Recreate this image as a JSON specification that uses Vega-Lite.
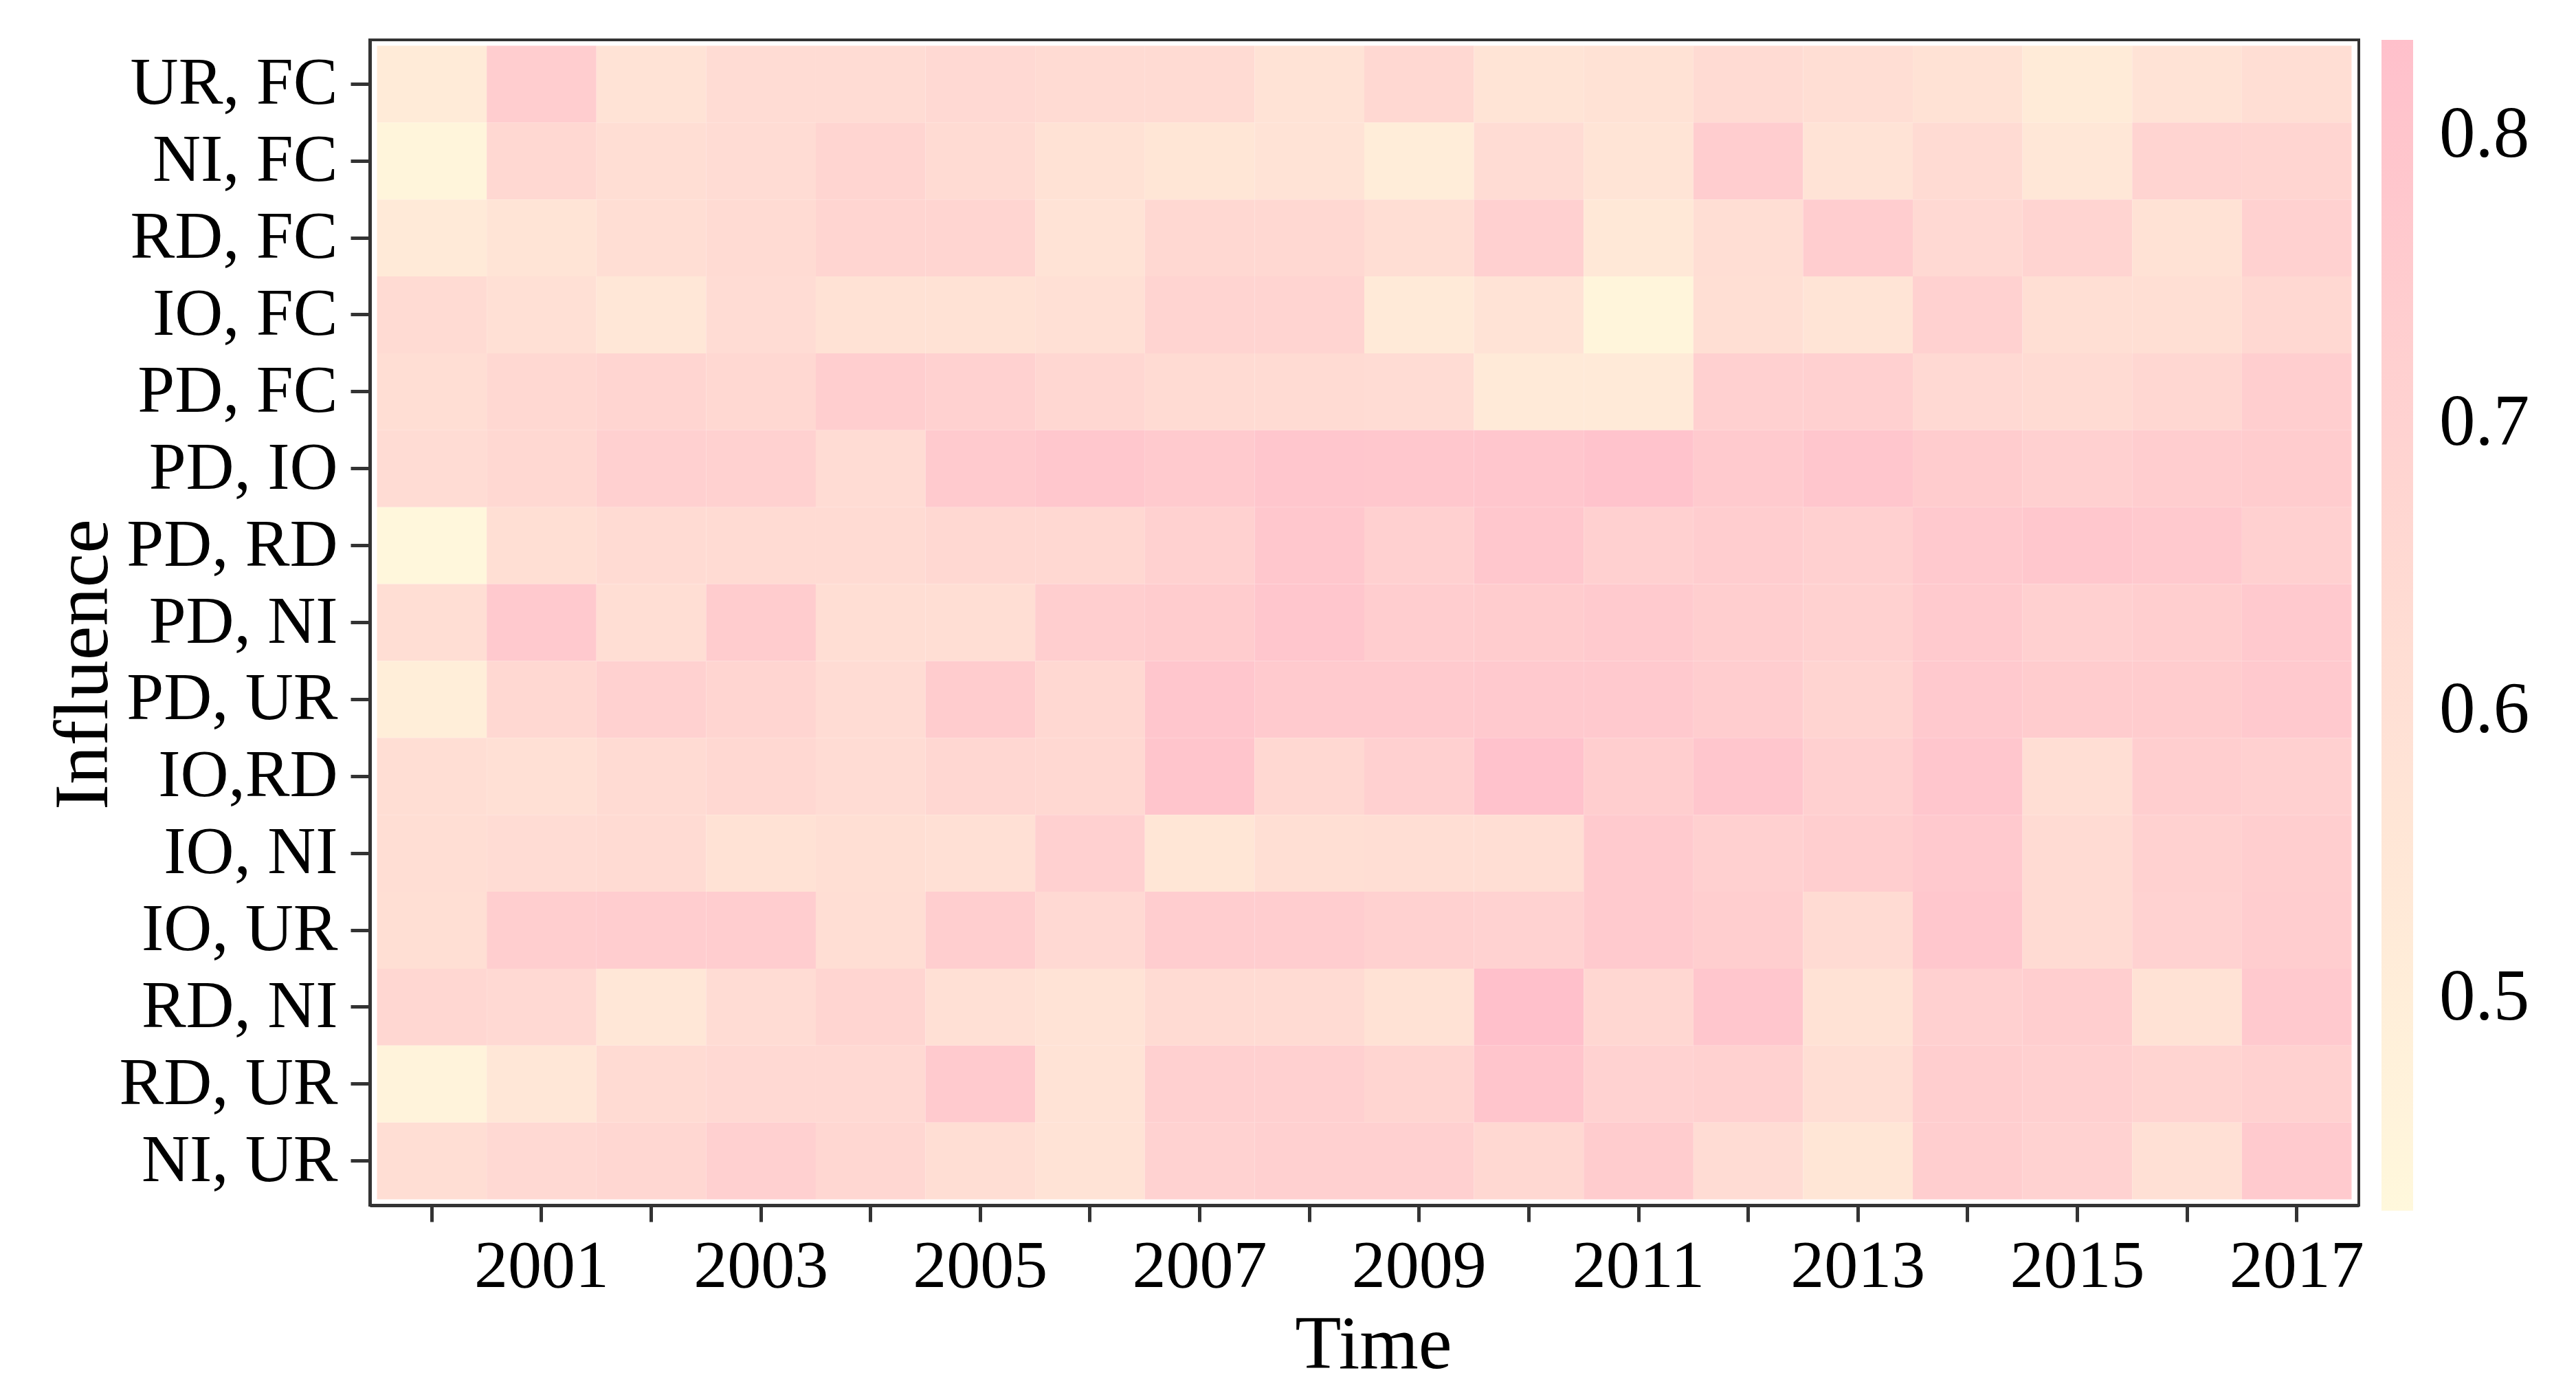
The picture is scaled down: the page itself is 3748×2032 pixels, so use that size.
{
"$schema": "https://vega.github.io/schema/vega-lite/v6.json",
"autosize": {"type": "none"},
"padding": {"left": 538, "top": 58, "right": 316, "bottom": 279},
"width": 2894,
"height": 1695,
"background": "white",
"config": {"font": "Liberation Serif", "view": {"stroke": "#333333", "strokeWidth": 4}},
"datasets": {"m": [
{"pair":"UR, FC","year":2000,"value":0.52},{"pair":"UR, FC","year":2001,"value":0.74},{"pair":"UR, FC","year":2002,"value":0.58},{"pair":"UR, FC","year":2003,"value":0.63},{"pair":"UR, FC","year":2004,"value":0.63},{"pair":"UR, FC","year":2005,"value":0.65},{"pair":"UR, FC","year":2006,"value":0.64},{"pair":"UR, FC","year":2007,"value":0.64},{"pair":"UR, FC","year":2008,"value":0.58},{"pair":"UR, FC","year":2009,"value":0.66},{"pair":"UR, FC","year":2010,"value":0.57},{"pair":"UR, FC","year":2011,"value":0.59},{"pair":"UR, FC","year":2012,"value":0.64},{"pair":"UR, FC","year":2013,"value":0.62},{"pair":"UR, FC","year":2014,"value":0.59},{"pair":"UR, FC","year":2015,"value":0.52},{"pair":"UR, FC","year":2016,"value":0.58},{"pair":"UR, FC","year":2017,"value":0.62},
{"pair":"NI, FC","year":2000,"value":0.45},{"pair":"NI, FC","year":2001,"value":0.66},{"pair":"NI, FC","year":2002,"value":0.62},{"pair":"NI, FC","year":2003,"value":0.63},{"pair":"NI, FC","year":2004,"value":0.68},{"pair":"NI, FC","year":2005,"value":0.64},{"pair":"NI, FC","year":2006,"value":0.59},{"pair":"NI, FC","year":2007,"value":0.56},{"pair":"NI, FC","year":2008,"value":0.58},{"pair":"NI, FC","year":2009,"value":0.51},{"pair":"NI, FC","year":2010,"value":0.63},{"pair":"NI, FC","year":2011,"value":0.57},{"pair":"NI, FC","year":2012,"value":0.74},{"pair":"NI, FC","year":2013,"value":0.58},{"pair":"NI, FC","year":2014,"value":0.64},{"pair":"NI, FC","year":2015,"value":0.55},{"pair":"NI, FC","year":2016,"value":0.69},{"pair":"NI, FC","year":2017,"value":0.68},
{"pair":"RD, FC","year":2000,"value":0.53},{"pair":"RD, FC","year":2001,"value":0.57},{"pair":"RD, FC","year":2002,"value":0.62},{"pair":"RD, FC","year":2003,"value":0.64},{"pair":"RD, FC","year":2004,"value":0.68},{"pair":"RD, FC","year":2005,"value":0.68},{"pair":"RD, FC","year":2006,"value":0.58},{"pair":"RD, FC","year":2007,"value":0.66},{"pair":"RD, FC","year":2008,"value":0.66},{"pair":"RD, FC","year":2009,"value":0.62},{"pair":"RD, FC","year":2010,"value":0.72},{"pair":"RD, FC","year":2011,"value":0.54},{"pair":"RD, FC","year":2012,"value":0.62},{"pair":"RD, FC","year":2013,"value":0.74},{"pair":"RD, FC","year":2014,"value":0.65},{"pair":"RD, FC","year":2015,"value":0.69},{"pair":"RD, FC","year":2016,"value":0.59},{"pair":"RD, FC","year":2017,"value":0.71},
{"pair":"IO, FC","year":2000,"value":0.64},{"pair":"IO, FC","year":2001,"value":0.60},{"pair":"IO, FC","year":2002,"value":0.55},{"pair":"IO, FC","year":2003,"value":0.63},{"pair":"IO, FC","year":2004,"value":0.59},{"pair":"IO, FC","year":2005,"value":0.59},{"pair":"IO, FC","year":2006,"value":0.60},{"pair":"IO, FC","year":2007,"value":0.69},{"pair":"IO, FC","year":2008,"value":0.69},{"pair":"IO, FC","year":2009,"value":0.53},{"pair":"IO, FC","year":2010,"value":0.58},{"pair":"IO, FC","year":2011,"value":0.45},{"pair":"IO, FC","year":2012,"value":0.61},{"pair":"IO, FC","year":2013,"value":0.57},{"pair":"IO, FC","year":2014,"value":0.71},{"pair":"IO, FC","year":2015,"value":0.61},{"pair":"IO, FC","year":2016,"value":0.61},{"pair":"IO, FC","year":2017,"value":0.66},
{"pair":"PD, FC","year":2000,"value":0.62},{"pair":"PD, FC","year":2001,"value":0.66},{"pair":"PD, FC","year":2002,"value":0.68},{"pair":"PD, FC","year":2003,"value":0.66},{"pair":"PD, FC","year":2004,"value":0.73},{"pair":"PD, FC","year":2005,"value":0.71},{"pair":"PD, FC","year":2006,"value":0.67},{"pair":"PD, FC","year":2007,"value":0.64},{"pair":"PD, FC","year":2008,"value":0.64},{"pair":"PD, FC","year":2009,"value":0.63},{"pair":"PD, FC","year":2010,"value":0.53},{"pair":"PD, FC","year":2011,"value":0.53},{"pair":"PD, FC","year":2012,"value":0.72},{"pair":"PD, FC","year":2013,"value":0.72},{"pair":"PD, FC","year":2014,"value":0.65},{"pair":"PD, FC","year":2015,"value":0.64},{"pair":"PD, FC","year":2016,"value":0.67},{"pair":"PD, FC","year":2017,"value":0.73},
{"pair":"PD, IO","year":2000,"value":0.63},{"pair":"PD, IO","year":2001,"value":0.66},{"pair":"PD, IO","year":2002,"value":0.72},{"pair":"PD, IO","year":2003,"value":0.71},{"pair":"PD, IO","year":2004,"value":0.63},{"pair":"PD, IO","year":2005,"value":0.76},{"pair":"PD, IO","year":2006,"value":0.78},{"pair":"PD, IO","year":2007,"value":0.76},{"pair":"PD, IO","year":2008,"value":0.79},{"pair":"PD, IO","year":2009,"value":0.78},{"pair":"PD, IO","year":2010,"value":0.79},{"pair":"PD, IO","year":2011,"value":0.81},{"pair":"PD, IO","year":2012,"value":0.76},{"pair":"PD, IO","year":2013,"value":0.79},{"pair":"PD, IO","year":2014,"value":0.75},{"pair":"PD, IO","year":2015,"value":0.72},{"pair":"PD, IO","year":2016,"value":0.74},{"pair":"PD, IO","year":2017,"value":0.75},
{"pair":"PD, RD","year":2000,"value":0.43},{"pair":"PD, RD","year":2001,"value":0.61},{"pair":"PD, RD","year":2002,"value":0.64},{"pair":"PD, RD","year":2003,"value":0.64},{"pair":"PD, RD","year":2004,"value":0.64},{"pair":"PD, RD","year":2005,"value":0.66},{"pair":"PD, RD","year":2006,"value":0.66},{"pair":"PD, RD","year":2007,"value":0.71},{"pair":"PD, RD","year":2008,"value":0.78},{"pair":"PD, RD","year":2009,"value":0.72},{"pair":"PD, RD","year":2010,"value":0.78},{"pair":"PD, RD","year":2011,"value":0.72},{"pair":"PD, RD","year":2012,"value":0.74},{"pair":"PD, RD","year":2013,"value":0.72},{"pair":"PD, RD","year":2014,"value":0.77},{"pair":"PD, RD","year":2015,"value":0.78},{"pair":"PD, RD","year":2016,"value":0.77},{"pair":"PD, RD","year":2017,"value":0.72},
{"pair":"PD, NI","year":2000,"value":0.62},{"pair":"PD, NI","year":2001,"value":0.77},{"pair":"PD, NI","year":2002,"value":0.62},{"pair":"PD, NI","year":2003,"value":0.75},{"pair":"PD, NI","year":2004,"value":0.62},{"pair":"PD, NI","year":2005,"value":0.62},{"pair":"PD, NI","year":2006,"value":0.73},{"pair":"PD, NI","year":2007,"value":0.75},{"pair":"PD, NI","year":2008,"value":0.79},{"pair":"PD, NI","year":2009,"value":0.74},{"pair":"PD, NI","year":2010,"value":0.75},{"pair":"PD, NI","year":2011,"value":0.76},{"pair":"PD, NI","year":2012,"value":0.73},{"pair":"PD, NI","year":2013,"value":0.71},{"pair":"PD, NI","year":2014,"value":0.76},{"pair":"PD, NI","year":2015,"value":0.72},{"pair":"PD, NI","year":2016,"value":0.73},{"pair":"PD, NI","year":2017,"value":0.77},
{"pair":"PD, UR","year":2000,"value":0.50},{"pair":"PD, UR","year":2001,"value":0.66},{"pair":"PD, UR","year":2002,"value":0.71},{"pair":"PD, UR","year":2003,"value":0.68},{"pair":"PD, UR","year":2004,"value":0.63},{"pair":"PD, UR","year":2005,"value":0.75},{"pair":"PD, UR","year":2006,"value":0.66},{"pair":"PD, UR","year":2007,"value":0.79},{"pair":"PD, UR","year":2008,"value":0.76},{"pair":"PD, UR","year":2009,"value":0.76},{"pair":"PD, UR","year":2010,"value":0.77},{"pair":"PD, UR","year":2011,"value":0.77},{"pair":"PD, UR","year":2012,"value":0.74},{"pair":"PD, UR","year":2013,"value":0.69},{"pair":"PD, UR","year":2014,"value":0.77},{"pair":"PD, UR","year":2015,"value":0.75},{"pair":"PD, UR","year":2016,"value":0.75},{"pair":"PD, UR","year":2017,"value":0.77},
{"pair":"IO,RD","year":2000,"value":0.62},{"pair":"IO,RD","year":2001,"value":0.60},{"pair":"IO,RD","year":2002,"value":0.64},{"pair":"IO,RD","year":2003,"value":0.66},{"pair":"IO,RD","year":2004,"value":0.63},{"pair":"IO,RD","year":2005,"value":0.67},{"pair":"IO,RD","year":2006,"value":0.66},{"pair":"IO,RD","year":2007,"value":0.80},{"pair":"IO,RD","year":2008,"value":0.66},{"pair":"IO,RD","year":2009,"value":0.72},{"pair":"IO,RD","year":2010,"value":0.82},{"pair":"IO,RD","year":2011,"value":0.73},{"pair":"IO,RD","year":2012,"value":0.79},{"pair":"IO,RD","year":2013,"value":0.72},{"pair":"IO,RD","year":2014,"value":0.79},{"pair":"IO,RD","year":2015,"value":0.62},{"pair":"IO,RD","year":2016,"value":0.73},{"pair":"IO,RD","year":2017,"value":0.72},
{"pair":"IO, NI","year":2000,"value":0.62},{"pair":"IO, NI","year":2001,"value":0.63},{"pair":"IO, NI","year":2002,"value":0.64},{"pair":"IO, NI","year":2003,"value":0.59},{"pair":"IO, NI","year":2004,"value":0.61},{"pair":"IO, NI","year":2005,"value":0.60},{"pair":"IO, NI","year":2006,"value":0.72},{"pair":"IO, NI","year":2007,"value":0.56},{"pair":"IO, NI","year":2008,"value":0.61},{"pair":"IO, NI","year":2009,"value":0.62},{"pair":"IO, NI","year":2010,"value":0.62},{"pair":"IO, NI","year":2011,"value":0.76},{"pair":"IO, NI","year":2012,"value":0.72},{"pair":"IO, NI","year":2013,"value":0.73},{"pair":"IO, NI","year":2014,"value":0.77},{"pair":"IO, NI","year":2015,"value":0.64},{"pair":"IO, NI","year":2016,"value":0.71},{"pair":"IO, NI","year":2017,"value":0.73},
{"pair":"IO, UR","year":2000,"value":0.61},{"pair":"IO, UR","year":2001,"value":0.73},{"pair":"IO, UR","year":2002,"value":0.74},{"pair":"IO, UR","year":2003,"value":0.74},{"pair":"IO, UR","year":2004,"value":0.62},{"pair":"IO, UR","year":2005,"value":0.73},{"pair":"IO, UR","year":2006,"value":0.65},{"pair":"IO, UR","year":2007,"value":0.74},{"pair":"IO, UR","year":2008,"value":0.74},{"pair":"IO, UR","year":2009,"value":0.71},{"pair":"IO, UR","year":2010,"value":0.70},{"pair":"IO, UR","year":2011,"value":0.76},{"pair":"IO, UR","year":2012,"value":0.73},{"pair":"IO, UR","year":2013,"value":0.64},{"pair":"IO, UR","year":2014,"value":0.78},{"pair":"IO, UR","year":2015,"value":0.64},{"pair":"IO, UR","year":2016,"value":0.70},{"pair":"IO, UR","year":2017,"value":0.74},
{"pair":"RD, NI","year":2000,"value":0.67},{"pair":"RD, NI","year":2001,"value":0.65},{"pair":"RD, NI","year":2002,"value":0.55},{"pair":"RD, NI","year":2003,"value":0.63},{"pair":"RD, NI","year":2004,"value":0.68},{"pair":"RD, NI","year":2005,"value":0.60},{"pair":"RD, NI","year":2006,"value":0.58},{"pair":"RD, NI","year":2007,"value":0.64},{"pair":"RD, NI","year":2008,"value":0.64},{"pair":"RD, NI","year":2009,"value":0.59},{"pair":"RD, NI","year":2010,"value":0.83},{"pair":"RD, NI","year":2011,"value":0.67},{"pair":"RD, NI","year":2012,"value":0.79},{"pair":"RD, NI","year":2013,"value":0.59},{"pair":"RD, NI","year":2014,"value":0.72},{"pair":"RD, NI","year":2015,"value":0.73},{"pair":"RD, NI","year":2016,"value":0.59},{"pair":"RD, NI","year":2017,"value":0.77},
{"pair":"RD, UR","year":2000,"value":0.46},{"pair":"RD, UR","year":2001,"value":0.55},{"pair":"RD, UR","year":2002,"value":0.64},{"pair":"RD, UR","year":2003,"value":0.65},{"pair":"RD, UR","year":2004,"value":0.65},{"pair":"RD, UR","year":2005,"value":0.76},{"pair":"RD, UR","year":2006,"value":0.58},{"pair":"RD, UR","year":2007,"value":0.72},{"pair":"RD, UR","year":2008,"value":0.72},{"pair":"RD, UR","year":2009,"value":0.68},{"pair":"RD, UR","year":2010,"value":0.80},{"pair":"RD, UR","year":2011,"value":0.70},{"pair":"RD, UR","year":2012,"value":0.71},{"pair":"RD, UR","year":2013,"value":0.62},{"pair":"RD, UR","year":2014,"value":0.73},{"pair":"RD, UR","year":2015,"value":0.72},{"pair":"RD, UR","year":2016,"value":0.69},{"pair":"RD, UR","year":2017,"value":0.71},
{"pair":"NI, UR","year":2000,"value":0.62},{"pair":"NI, UR","year":2001,"value":0.65},{"pair":"NI, UR","year":2002,"value":0.67},{"pair":"NI, UR","year":2003,"value":0.72},{"pair":"NI, UR","year":2004,"value":0.67},{"pair":"NI, UR","year":2005,"value":0.62},{"pair":"NI, UR","year":2006,"value":0.58},{"pair":"NI, UR","year":2007,"value":0.70},{"pair":"NI, UR","year":2008,"value":0.72},{"pair":"NI, UR","year":2009,"value":0.72},{"pair":"NI, UR","year":2010,"value":0.66},{"pair":"NI, UR","year":2011,"value":0.75},{"pair":"NI, UR","year":2012,"value":0.63},{"pair":"NI, UR","year":2013,"value":0.56},{"pair":"NI, UR","year":2014,"value":0.73},{"pair":"NI, UR","year":2015,"value":0.70},{"pair":"NI, UR","year":2016,"value":0.60},{"pair":"NI, UR","year":2017,"value":0.76}
]},
"data": {"name": "m"},
"mark": {"type": "rect"},
"encoding": {
  "x": {"field": "year", "type": "ordinal",
    "scale": {"paddingInner": 0, "paddingOuter": 0.066},
    "axis": {"title": "Time", "titleFontSize": 110, "titleFontWeight": "normal", "titleColor": "black",
      "titleX": 1460, "titleY": 236, "titleBaseline": "alphabetic", "titleAlign": "center",
      "labelFontSize": 98, "labelColor": "black", "labelAngle": 0, "labelBaseline": "alphabetic", "labelPadding": 94,
      "labelExpr": "datum.value % 2 == 1 ? datum.label : ''", "labelOverlap": false, "labelLimit": 0,
      "tickSize": 24, "tickWidth": 5, "tickColor": "#333333", "domainColor": "#333333", "domainWidth": 5,
      "grid": false, "bandPosition": 0.5}},
  "y": {"field": "pair", "type": "nominal",
    "sort": ["UR, FC","NI, FC","RD, FC","IO, FC","PD, FC","PD, IO","PD, RD","PD, NI","PD, UR","IO,RD","IO, NI","IO, UR","RD, NI","RD, UR","NI, UR"],
    "scale": {"paddingInner": 0, "paddingOuter": 0.075},
    "axis": {"title": "Influence", "titleFontSize": 112, "titleFontWeight": "normal", "titleColor": "black",
      "titleAngle": -90, "titleX": -383, "titleY": 908, "titleBaseline": "alphabetic", "titleAlign": "center",
      "labelFontSize": 97, "labelColor": "black", "labelPadding": 19, "labelOverlap": false, "labelLimit": 0,
      "tickSize": 28, "tickWidth": 5, "tickColor": "#333333", "domainColor": "#333333", "domainWidth": 5,
      "grid": false, "bandPosition": 0.5}},
  "color": {"field": "value", "type": "quantitative",
    "scale": {"domain": [0.426, 0.833], "range": ["#FFF8DC", "#FFC0CB"], "interpolate": "lab"},
    "legend": {"title": null, "orient": "right", "offset": 33, "padding": 0,
      "gradientLength": 1703, "gradientThickness": 46, "gradientStrokeWidth": 0,
      "labelFontSize": 105, "labelColor": "black", "labelOffset": 38,
      "values": [0.5, 0.6, 0.7, 0.8], "format": ".1f", "labelOverlap": false}}
}
}
